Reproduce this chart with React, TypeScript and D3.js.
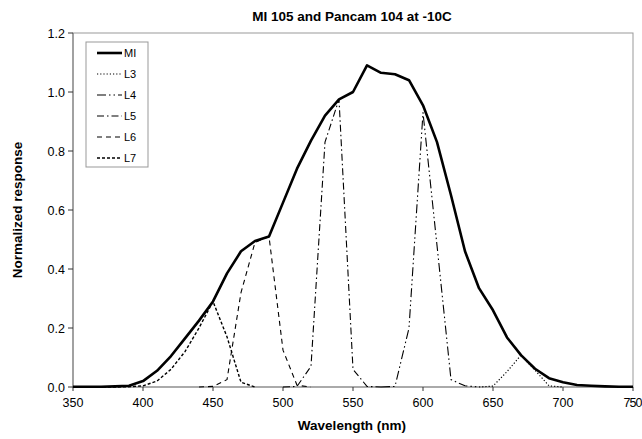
import React from "react";
import * as d3 from "d3";

const title = "MI 105 and Pancam 104 at -10C";
const xTicks = [350, 400, 450, 500, 550, 600, 650, 700, 750];
const yTicks = [0, 0.2, 0.4, 0.6, 0.8, 1.0, 1.2];

const miWl = [350, 360, 370, 380, 390, 400, 410, 420, 430, 440, 450, 460, 470, 480, 490, 500, 510, 520, 530, 540, 550, 560, 570, 580, 590, 600, 610, 620, 630, 640, 650, 660, 670, 680, 690, 700, 710, 720, 730, 740, 750];
const miVal = [0.001, 0.001, 0.001, 0.002, 0.004, 0.02, 0.055, 0.105, 0.165, 0.225, 0.29, 0.385, 0.46, 0.495, 0.51, 0.625, 0.74, 0.835, 0.92, 0.975, 1.0, 1.09, 1.065, 1.06, 1.04, 0.955, 0.83, 0.65, 0.46, 0.335, 0.26, 0.168, 0.108, 0.062, 0.03, 0.016, 0.007, 0.004, 0.002, 0.001, 0.001];

const l3Wl = [640, 650, 660, 670, 680, 690, 700];
const l3Val = [0, 0.003, 0.052, 0.108, 0.057, 0.004, 0];

const l4Wl = [570, 580, 590, 600, 610, 620, 630, 640];
const l4Val = [0, 0.002, 0.2, 0.93, 0.48, 0.025, 0.004, 0];

const l5Wl = [500, 510, 520, 530, 540, 550, 560, 570];
const l5Val = [0, 0.002, 0.07, 0.83, 0.975, 0.06, 0.002, 0];

const l6Wl = [440, 450, 460, 470, 480, 490, 500, 510, 520];
const l6Val = [0, 0.002, 0.025, 0.32, 0.49, 0.51, 0.125, 0.006, 0];

const l7Wl = [350, 360, 370, 380, 390, 400, 410, 420, 430, 440, 450, 460, 470, 480];
const l7Val = [0, 0, 0, 0, 0.001, 0.004, 0.02, 0.06, 0.12, 0.2, 0.29, 0.17, 0.016, 0];

const seriesNames = ["MI", "L3", "L4", "L5", "L6", "L7"];

type S = { name: string; wl: number[]; val: number[]; width: number; dash: string | null };

const series: S[] = [
  { name: "L3", wl: l3Wl, val: l3Val, width: 1.2, dash: "1.2,2" },
  { name: "L4", wl: l4Wl, val: l4Val, width: 1.1, dash: "9,3,1.5,3,1.5,3" },
  { name: "L5", wl: l5Wl, val: l5Val, width: 1.1, dash: "7,3,1.5,3" },
  { name: "L6", wl: l6Wl, val: l6Val, width: 1.1, dash: "5,4" },
  { name: "L7", wl: l7Wl, val: l7Val, width: 1.4, dash: "3,2" },
  { name: "MI", wl: miWl, val: miVal, width: 2.6, dash: null },
];

export default function App() {
  const W = 642, H = 439;
  const left = 73, right = 633, top = 33, bottom = 387;
  const x = d3.scaleLinear().domain([350, 750]).range([left, right]);
  const y = d3.scaleLinear().domain([0, 1.2]).range([bottom, top]);
  const line = d3.line<[number, number]>().x((d) => x(d[0])).y((d) => y(d[1]));
  const font = "Arimo, 'Liberation Sans', Arial, sans-serif";
  const styleOf = (n: string) => series.find((s) => s.name === n)!;

  return (
    <svg width={W} height={H} style={{ position: "absolute", left: 0, top: 0 }} fontFamily={font}>
      <rect x={0} y={0} width={W} height={H} fill="#fff" />
      <text x={352} y={21} textAnchor="middle" fontSize={13.5} fontWeight="bold">{title}</text>
      <rect x={left} y={top} width={right - left} height={bottom - top} fill="none" stroke="#999" strokeWidth={1} />
      <line x1={left} x2={left} y1={top} y2={bottom} stroke="#777" />
      <line x1={left} x2={right} y1={bottom} y2={bottom} stroke="#888" />
      {yTicks.map((t) => (
        <g key={"y" + t}>
          <line x1={left - 5} x2={left} y1={y(t)} y2={y(t)} stroke="#333" />
          <text x={left - 8} y={y(t) + 4.5} textAnchor="end" fontSize={12.5}>{t.toFixed(1)}</text>
        </g>
      ))}
      {xTicks.map((t) => (
        <g key={"x" + t}>
          <line x1={x(t)} x2={x(t)} y1={bottom} y2={bottom + 4} stroke="#333" />
          <text x={x(t)} y={bottom + 20} textAnchor="middle" fontSize={12.5} textLength={t === 750 ? 19 : undefined}>{t}</text>
        </g>
      ))}
      <text x={352} y={430} textAnchor="middle" fontSize={13.5} fontWeight="bold">Wavelength (nm)</text>
      <text transform={`translate(22,${(top + bottom) / 2}) rotate(-90)`} textAnchor="middle" fontSize={13.5} fontWeight="bold">Normalized response</text>
      {series.map((s) => (
        <path
          key={s.name}
          d={line(s.wl.map((w, i) => [w, s.val[i]] as [number, number])) || ""}
          fill="none"
          stroke="#000"
          strokeWidth={s.width}
          strokeDasharray={s.dash || undefined}
          strokeLinejoin="round"
        />
      ))}
      <rect x={86} y={42} width={62} height={125} fill="#fff" stroke="#999" />
      {seriesNames.map((n, i) => {
        const s = styleOf(n);
        const ly = 53 + i * 21;
        return (
          <g key={"lg" + n}>
            <line x1={97} x2={122} y1={ly} y2={ly} stroke="#000" strokeWidth={s.width} strokeDasharray={s.dash || undefined} />
            <text x={124} y={ly + 4} fontSize={11}>{n}</text>
          </g>
        );
      })}
    </svg>
  );
}
